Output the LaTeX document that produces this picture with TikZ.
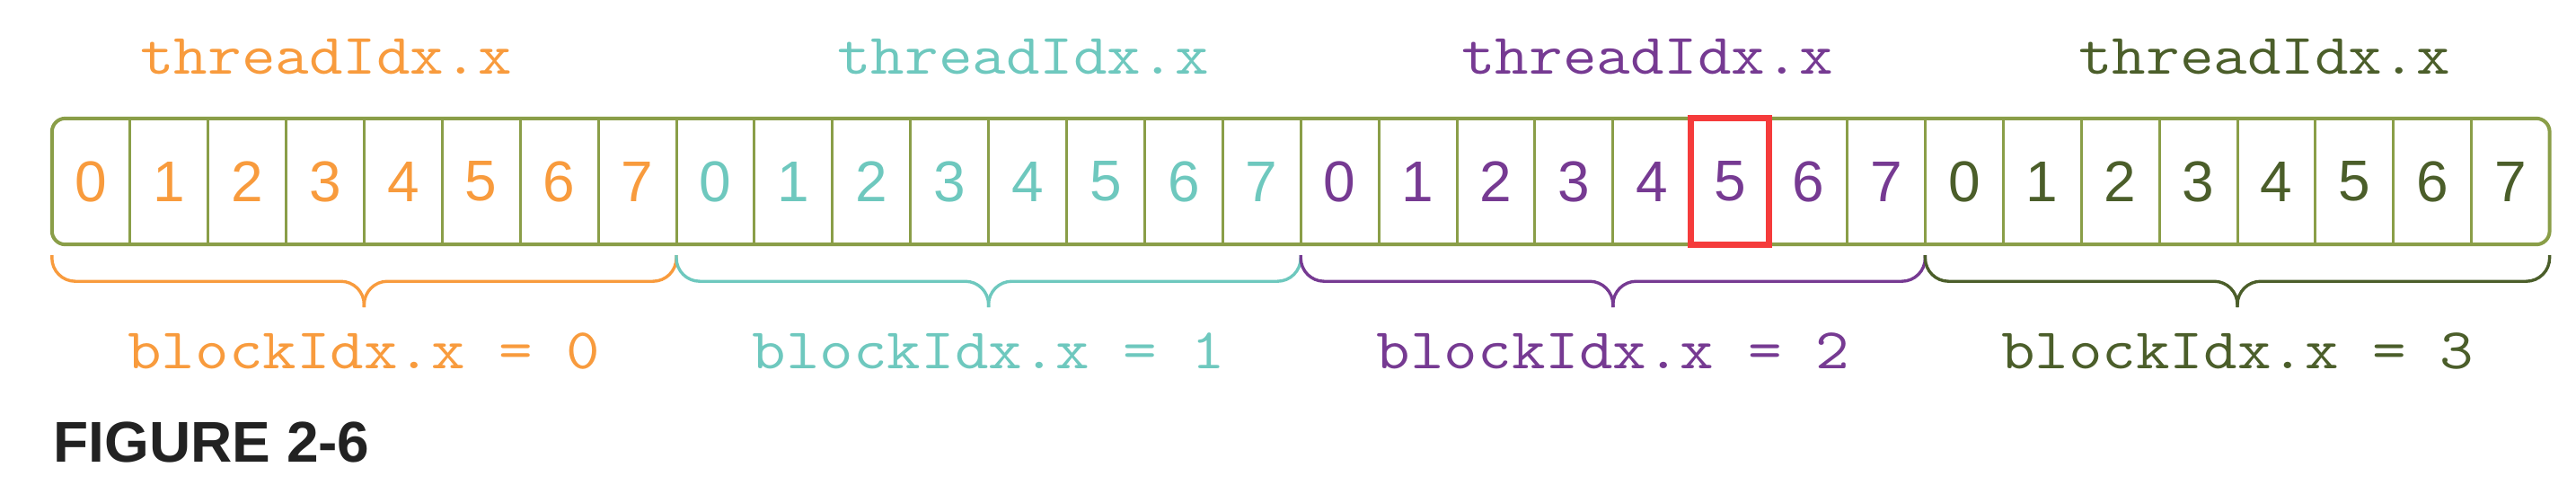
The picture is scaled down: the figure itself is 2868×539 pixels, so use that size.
\documentclass[tikz,border=0pt]{standalone}
\usepackage{fontspec}
\usepackage{tikz}
\usetikzlibrary{positioning, calc}
\newfontfamily\codefont[FakeStretch=1.14]{Latin Modern Mono}
\newfontfamily\digitfont{Liberation Sans}
\definecolor{gridgreen}{HTML}{8A9E48}
\definecolor{blk0}{HTML}{F89B3D}
\definecolor{blk1}{HTML}{6EC8BE}
\definecolor{blk2}{HTML}{763A92}
\definecolor{blk3}{HTML}{4B5E2A}
\definecolor{pick}{HTML}{F53B3B}
\definecolor{figblack}{HTML}{222222}
\tikzset{
x=1pt, y=-1pt, % one unit is one pixel of the figure, y runs downwards
node distance=0pt, % the cells sit flush against each other
cell/.style={minimum width=86.5pt, minimum height=140pt, inner sep=0pt, font=\digitfont\fontsize{64}{70}\selectfont}, % one thread
divider/.style={draw=gridgreen, line width=3pt}, % line between two threads
frame/.style={draw=gridgreen, line width=4pt, rounded corners=15pt}, % outline of the whole grid
idx/.style={anchor=base, font=\codefont\fontsize{64}{70}\selectfont}, % threadIdx and blockIdx labels
curly/.style={line width=3.4pt, rounded corners=26pt}, % the brace under a block
}

\begin{document}
\begin{tikzpicture}
    \useasboundingbox (0,0) rectangle (2868,539);
    % 32 threads, eight in each block
    \node[cell, text=blk0] (c0) at (101.25,202) {0};
    \foreach \i in {1,...,31}{
        \pgfmathtruncatemacro\prev{\i-1}
        \pgfmathtruncatemacro\blk{\i/8}
        \pgfmathtruncatemacro\tid{mod(\i,8)}
        \node[cell, text=blk\blk, right=of c\prev] (c\i) {\tid};
    }
    \foreach \i in {0,...,30}
        \draw[divider] (c\i.north east) -- (c\i.south east);
    \draw[frame] (c0.north west) rectangle (c31.south east);
    \draw[pick, line width=7pt] (c21.north west) rectangle (c21.south east);
    % labels on top
    \foreach \b/\xc in {0/363, 1/1139, 2/1834, 3/2521}
        \node[idx, text=blk\b] (tidx\b) at (\xc,82) {threadIdx.x};
    % braces and block labels
    \foreach \b in {0,...,3}{
        \pgfmathtruncatemacro\first{8*\b}
        \pgfmathtruncatemacro\last{8*\b+7}
        \coordinate (bl\b) at ([yshift=-12pt]c\first.south west);
        \coordinate (br\b) at ([yshift=-12pt]c\last.south east);
        \coordinate (tip\b) at ($(bl\b)!0.5!(br\b)+(0,58)$);
        \draw[curly, blk\b] (bl\b) -- ++(0,29) -| (tip\b);
        \draw[curly, blk\b] (br\b) -- ++(0,29) -| (tip\b);
        \node[idx, text=blk\b] (bidx\b) at ([yshift=-68pt]tip\b) {blockIdx.x = \b};
    }
    \node[anchor=base west, font=\digitfont\bfseries\fontsize{64}{70}\selectfont, text=figblack] (caption) at (56,514) {FIGURE 2-6};
\end{tikzpicture}
\end{document}
